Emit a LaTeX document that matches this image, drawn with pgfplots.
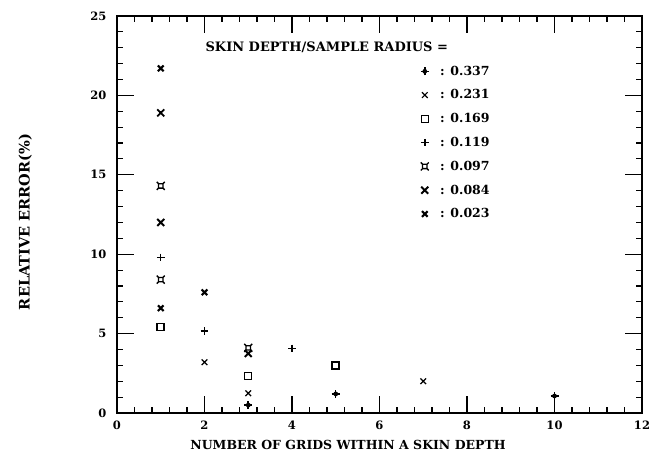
\documentclass[border=0pt]{standalone}
\usepackage{pgfplots}
\pgfplotsset{compat=1.18}
\usepackage{fontspec}
\setmainfont{DejaVu Serif}

% square with little corner spikes
\pgfdeclareplotmark{sqspike}{%
  \pgfpathrectangle{\pgfpoint{-.55\pgfplotmarksize}{-.55\pgfplotmarksize}}{\pgfpoint{1.1\pgfplotmarksize}{1.1\pgfplotmarksize}}%
  \pgfpathmoveto{\pgfpoint{.55\pgfplotmarksize}{.55\pgfplotmarksize}}\pgfpathlineto{\pgfpoint{\pgfplotmarksize}{\pgfplotmarksize}}%
  \pgfpathmoveto{\pgfpoint{-.55\pgfplotmarksize}{.55\pgfplotmarksize}}\pgfpathlineto{\pgfpoint{-\pgfplotmarksize}{\pgfplotmarksize}}%
  \pgfpathmoveto{\pgfpoint{.55\pgfplotmarksize}{-.55\pgfplotmarksize}}\pgfpathlineto{\pgfpoint{\pgfplotmarksize}{-\pgfplotmarksize}}%
  \pgfpathmoveto{\pgfpoint{-.55\pgfplotmarksize}{-.55\pgfplotmarksize}}\pgfpathlineto{\pgfpoint{-\pgfplotmarksize}{-\pgfplotmarksize}}%
  \pgfusepathqstroke}
% heavy cross over a small filled box
\pgfdeclareplotmark{boxx}{%
  \pgfpathrectangle{\pgfpoint{-.45\pgfplotmarksize}{-.45\pgfplotmarksize}}{\pgfpoint{.9\pgfplotmarksize}{.9\pgfplotmarksize}}%
  \pgfusepathqfill
  \pgfpathmoveto{\pgfpoint{-\pgfplotmarksize}{-\pgfplotmarksize}}\pgfpathlineto{\pgfpoint{\pgfplotmarksize}{\pgfplotmarksize}}%
  \pgfpathmoveto{\pgfpoint{-\pgfplotmarksize}{\pgfplotmarksize}}\pgfpathlineto{\pgfpoint{\pgfplotmarksize}{-\pgfplotmarksize}}%
  \pgfusepathqstroke}
% filled blob with a cross through it
\pgfdeclareplotmark{clover}{%
  \pgfpathcircle{\pgfpoint{0pt}{0pt}}{.6\pgfplotmarksize}%
  \pgfusepathqfill
  \pgfpathmoveto{\pgfpoint{-\pgfplotmarksize}{0pt}}\pgfpathlineto{\pgfpoint{\pgfplotmarksize}{0pt}}%
  \pgfpathmoveto{\pgfpoint{0pt}{-\pgfplotmarksize}}\pgfpathlineto{\pgfpoint{0pt}{\pgfplotmarksize}}%
  \pgfusepathqstroke}

\pgfplotstableread{
x y
3 0.5
5 1.2
10 1.07
}\sA
\pgfplotstableread{
x y
2 3.2
3 1.24
7 2.0
}\sB
\pgfplotstableread{
x y
1 5.4
3 2.33
5 3.0
}\sC
\pgfplotstableread{
x y
1 9.8
2 5.15
4 4.07
}\sD
\pgfplotstableread{
x y
1 14.3
1 8.4
3 4.1
}\sE
\pgfplotstableread{
x y
1 18.9
1 12.0
3 3.75
}\sF
\pgfplotstableread{
x y
1 21.7
1 6.6
2 7.6
}\sG

\begin{document}
\begin{tikzpicture}
\begin{axis}[
    scale only axis,
    width=525pt, height=397pt,
    xmin=0, xmax=12, ymin=0, ymax=25,
    xtick={0,2,...,12}, ytick={0,5,...,25},
    minor x tick num=4, minor y tick num=4,
    tick align=inside,
    major tick length=17pt, minor tick length=6pt,
    every tick/.style={black, line width=1.1pt},
    axis line style={line width=1.3pt},
    font=\fontsize{13}{15}\selectfont\bfseries,
    /pgf/number format/assume math mode=true,
    ticklabel style={font=\fontsize{11.5}{13}\selectfont\bfseries},
    yticklabel style={xshift=-7pt},
    xticklabel style={yshift=-4pt},
    xlabel={NUMBER OF GRIDS WITHIN A SKIN DEPTH},
    xlabel style={at={(axis description cs:0.44,0)}, anchor=north, yshift=-27pt, inner sep=0pt,
        font=\fontsize{12.5}{14}\selectfont\bfseries},
    ylabel={RELATIVE ERROR(\%)},
    ylabel style={at={(axis description cs:0,0.481)}, anchor=south, inner sep=0pt, yshift=85pt,
        font=\fontsize{14.5}{16}\selectfont\bfseries},
    legend image code/.code={%
        \path (0cm,0cm) (0.55cm,0cm);
        \draw[#1] plot coordinates {(0.12cm,0cm)};},
    legend style={at={(axis cs:6.86,22.12)}, anchor=north west, draw=none, fill=none,
        row sep=9pt, font=\fontsize{12.5}{14}\selectfont\bfseries},
    legend cell align=left,
    clip=false,
]
\addplot[only marks, mark=clover, mark size=4pt, line width=1.5pt] table {\sA};
\addlegendentry{: 0.337}
\addplot[only marks, mark=x, mark size=4pt, line width=1.2pt] table {\sB};
\addlegendentry{: 0.231}
\addplot[only marks, mark=square, mark size=3.5pt, line width=1.5pt] table {\sC};
\addlegendentry{: 0.169}
\addplot[only marks, mark=+, mark size=3.8pt, line width=1.5pt] table {\sD};
\addlegendentry{: 0.119}
\addplot[only marks, mark=sqspike, mark size=4pt, line width=1.3pt] table {\sE};
\addlegendentry{: 0.097}
\addplot[only marks, mark=boxx, mark size=3.5pt, line width=1.9pt] table {\sF};
\addlegendentry{: 0.084}
\addplot[only marks, mark=x, mark size=4pt, line width=2.1pt] table {\sG};
\addlegendentry{: 0.023}
\node[anchor=west, inner sep=0pt] at (axis cs:2.02,23.0) {SKIN DEPTH/SAMPLE RADIUS =};
\end{axis}
\path (current axis.south west) +(-117pt,-48pt) (current axis.north east) +(15pt,16pt);
\end{tikzpicture}
\end{document}
